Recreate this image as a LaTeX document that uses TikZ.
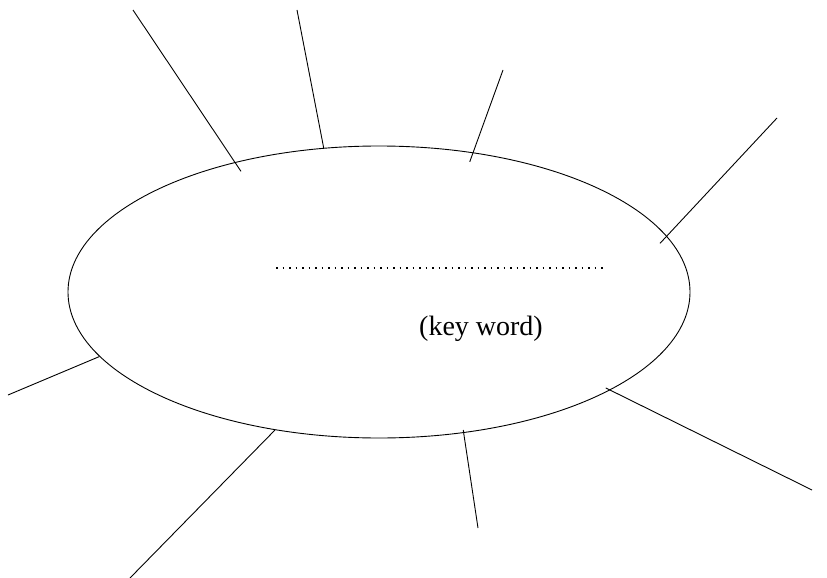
\documentclass[tikz,border=0pt]{standalone}
\usepackage{fontspec}
\setmainfont{Liberation Serif}
\usetikzlibrary{shapes.geometric}
\begin{document}
\begin{tikzpicture}[
    x=1pt, y=-1pt,
    bubble/.style={ellipse, draw, line width=0.9pt, inner sep=0pt, minimum width=622pt, minimum height=292pt},
    spoke/.style={line width=0.9pt},
    blank/.style={draw, line width=1.6pt, dash pattern=on 1.6pt off 4.9pt}
]
    \useasboundingbox (0, 0) rectangle (827, 578);

    \node[bubble] (kw) at (379, 292) {};
    \node[font=\fontsize{28}{32}\selectfont] (kwtext) at (481, 329) {(key word)};

    \coordinate (dl) at (276, 268);
    \coordinate (dr) at (604, 268);
    \draw[blank] (dl) -- (dr);

    % outer ends of the spokes
    \coordinate (o1) at (133, 10);
    \coordinate (o2) at (297, 10);
    \coordinate (o3) at (503, 70);
    \coordinate (o4) at (777, 118);
    \coordinate (o5) at (812, 490);
    \coordinate (o6) at (478, 528);
    \coordinate (o7) at (130, 578);
    \coordinate (o8) at (8, 395);

    % some spokes run a little way into the bubble
    \draw[spoke, shorten <=-11pt] (kw.138) -- (o1);
    \draw[spoke] (kw.111) -- (o2);
    \draw[spoke, shorten <=-10pt] (kw.56)  -- (o3);
    \draw[spoke, shorten <=-10pt] (kw.11)  -- (o4);
    \draw[spoke, shorten <=-5pt] (kw.-23) -- (o5);
    \draw[spoke, shorten <=-3pt] (kw.-59) -- (o6);
    \draw[spoke] (kw.233) -- (o7);
    \draw[spoke] (kw.193) -- (o8);
\end{tikzpicture}
\end{document}
